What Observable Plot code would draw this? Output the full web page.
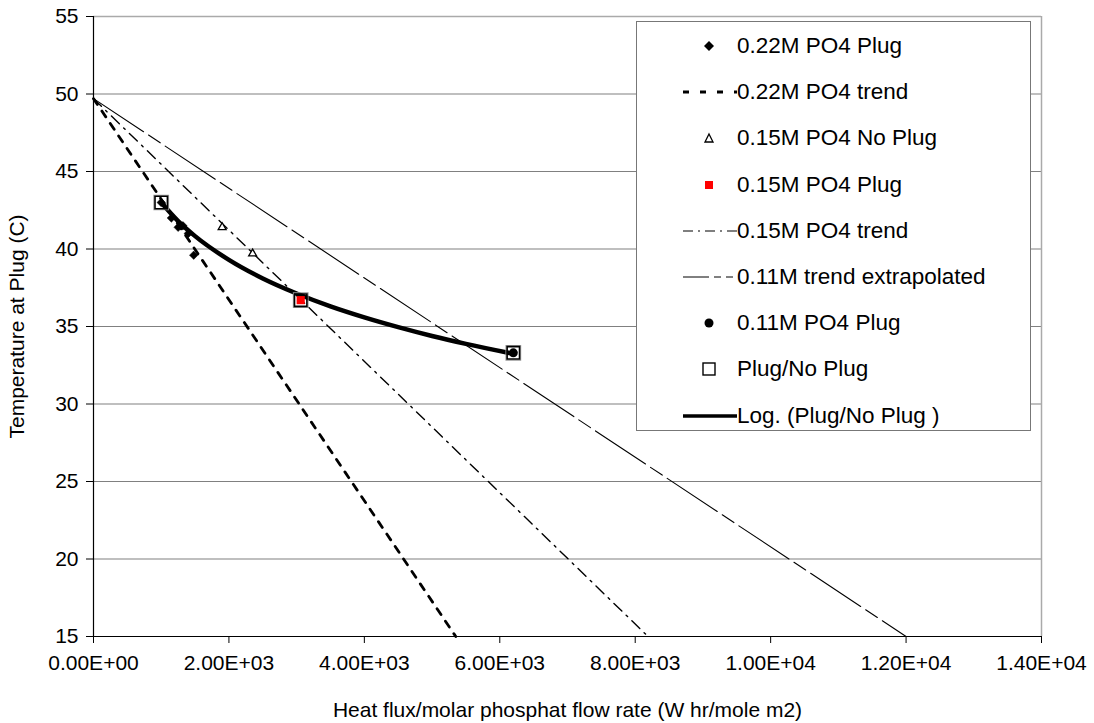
<!DOCTYPE html>
<html>
<head>
<meta charset="utf-8">
<script src="https://cdn.jsdelivr.net/npm/d3@7"></script>
<script src="https://cdn.jsdelivr.net/npm/@observablehq/plot@0.6"></script>
<style>
  body { margin: 0; background: #fff; }
  #wrap { position: relative; width: 1094px; height: 723px; font-family: "Liberation Sans", Arial, sans-serif; }
  #legend { position: absolute; left: 636px; top: 21px; width: 395px; height: 410px; border: 1.5px solid #777; background: #fff; box-sizing: border-box; }
  .row { position: absolute; left: 0; height: 30px; display: flex; align-items: center; font-size: 22.5px; color: #000; }
  .row svg { width: 60px; height: 30px; margin-left: 42px; }
  .row span { margin-left: -2px; white-space: nowrap; }
</style>
</head>
<body>
<div id="wrap"></div>
<script>
// ---- data ----
const xTicks = [0, 2000, 4000, 6000, 8000, 10000, 12000, 14000];
const xTickLabels = ["0.00E+00", "2.00E+03", "4.00E+03", "6.00E+03", "8.00E+03", "1.00E+04", "1.20E+04", "1.40E+04"];
const yTicks = [15, 20, 25, 30, 35, 40, 45, 50, 55];

const plug022X = [1000, 1150, 1250, 1320, 1400, 1480];
const plug022Y = [43.0, 42.0, 41.4, 41.5, 41.0, 39.6];

const trend022X = [0, 5350];
const trend022Y = [49.7, 15];

const noPlug015X = [1900, 2350];
const noPlug015Y = [41.4, 39.7];

const plug015X = [3060];
const plug015Y = [36.7];

const trend015X = [0, 8190];
const trend015Y = [49.7, 15];

const trend011X = [0, 12000];
const trend011Y = [49.7, 15];

const plug011X = [6200];
const plug011Y = [33.3];

const plugNoPlugX = [1000, 3060, 6200];
const plugNoPlugY = [43.0, 36.7, 33.3];

const logTrendX = [1000, 1250, 1500, 2000, 2500, 3000, 3500, 4000, 4500, 5000, 5500, 6200];
const logTrendY = [43.00, 41.80, 40.83, 39.30, 38.10, 37.13, 36.30, 35.59, 34.96, 34.39, 33.88, 33.24];

const legendLabels = ["0.22M PO4 Plug", "0.22M PO4 trend", "0.15M PO4 No Plug", "0.15M PO4 Plug",
  "0.15M PO4 trend", "0.11M trend extrapolated", "0.11M PO4 Plug", "Plug/No Plug", "Log. (Plug/No Plug )"];

const zip = (xs, ys) => xs.map((x, i) => ({x, y: ys[i]}));

const chart = Plot.plot({
  width: 1094, height: 723,
  marginLeft: 93, marginRight: 53, marginTop: 16, marginBottom: 87,
  style: { fontFamily: "Liberation Sans, Arial, sans-serif", fontSize: "21px", color: "#000", background: "#fff" },
  x: { domain: [0, 14000] },
  y: { domain: [15, 55] },
  marks: [
    Plot.ruleY(yTicks.slice(1), { stroke: "#808080", strokeWidth: 1.2 }),
    Plot.ruleX([14000], { stroke: "#aaa", strokeWidth: 1.5 }),
    Plot.ruleY([55], { stroke: "#aaa", strokeWidth: 1.5 }),
    Plot.ruleY([15], { stroke: "#000", strokeWidth: 1.2 }),
    Plot.ruleX([0], { stroke: "#000", strokeWidth: 1.2 }),
    Plot.axisX({ ticks: xTicks, tickFormat: d => xTickLabels[xTicks.indexOf(d)], tickSize: 7, tickPadding: 12,
      fontSize: 21, label: "Heat flux/molar phosphat flow rate (W hr/mole m2)", labelAnchor: "center", labelArrow: "none", labelOffset: 80 }),
    Plot.axisY({ ticks: yTicks, tickSize: 7, tickPadding: 8, fontSize: 21,
      label: "Temperature at Plug (C)", labelAnchor: "center", labelArrow: "none", labelOffset: 84 }),
    Plot.line(zip(trend011X, trend011Y), { x: "x", y: "y", stroke: "#000", strokeWidth: 1.1, strokeDasharray: "60,6,14,6" }),
    Plot.line(zip(trend015X, trend015Y), { x: "x", y: "y", stroke: "#000", strokeWidth: 1.4, strokeDasharray: "11,6,2,6" }),
    Plot.line(zip(trend022X, trend022Y), { x: "x", y: "y", stroke: "#000", strokeWidth: 2.8, strokeDasharray: "7,8" }),
    Plot.line(zip(logTrendX, logTrendY), { x: "x", y: "y", stroke: "#000", strokeWidth: 4.5, curve: "monotone-x" }),
    Plot.dot(zip(plugNoPlugX, plugNoPlugY), { x: "x", y: "y", symbol: "square", r: 8.2, fill: "none", stroke: "#999", strokeWidth: 1.2 }),
    Plot.dot(zip(plugNoPlugX, plugNoPlugY), { x: "x", y: "y", symbol: "square", r: 7, fill: "none", stroke: "#000", strokeWidth: 1.6 }),
    Plot.dot(zip(plug022X, plug022Y), { x: "x", y: "y", symbol: "diamond2", r: 3.8, fill: "#000", stroke: "#000", strokeWidth: 0.5 }),
    Plot.dot(zip(noPlug015X, noPlug015Y), { x: "x", y: "y", symbol: "triangle2", r: 3.8, fill: "#fff", stroke: "#000", strokeWidth: 1.3 }),
    Plot.dot(zip(plug015X, plug015Y), { x: "x", y: "y", symbol: "square", r: 4.6, fill: "#ff0000", stroke: "none" }),
    Plot.dot(zip(plug011X, plug011Y), { x: "x", y: "y", symbol: "circle", r: 4.5, fill: "#000", stroke: "none" })
  ]
});
document.getElementById("wrap").appendChild(chart);

// ---- legend ----
const legend = document.createElement("div");
legend.id = "legend";
document.getElementById("wrap").appendChild(legend);
const sym = [
  '<path d="M30,10 L35,15 L30,20 L25,15 Z" fill="#000"/>',
  '<line x1="4" y1="15" x2="58" y2="15" stroke="#000" stroke-width="3" stroke-dasharray="6,11"/>',
  '<path d="M30,11 L34,19 L26,19 Z" fill="#fff" stroke="#000" stroke-width="1.3"/>',
  '<rect x="26" y="11" width="8" height="8" fill="#ff0000"/>',
  '<line x1="4" y1="15" x2="58" y2="15" stroke="#000" stroke-width="1.2" stroke-dasharray="10,5,2,5"/>',
  '<line x1="4" y1="15" x2="58" y2="15" stroke="#000" stroke-width="1" stroke-dasharray="26,5,7,5,7"/>',
  '<circle cx="30" cy="15" r="4.5" fill="#000"/>',
  '<rect x="24" y="9" width="12" height="12" fill="none" stroke="#000" stroke-width="1.4"/>',
  '<line x1="4" y1="15" x2="58" y2="15" stroke="#000" stroke-width="3.5"/>'
];
legendLabels.forEach((lab, i) => {
  const row = document.createElement("div");
  row.className = "row";
  row.style.top = (9 + i * 46.2) + "px";
  row.innerHTML = `<svg viewBox="0 0 60 30">${sym[i]}</svg><span>${lab}</span>`;
  legend.appendChild(row);
});
</script>
</body>
</html>
